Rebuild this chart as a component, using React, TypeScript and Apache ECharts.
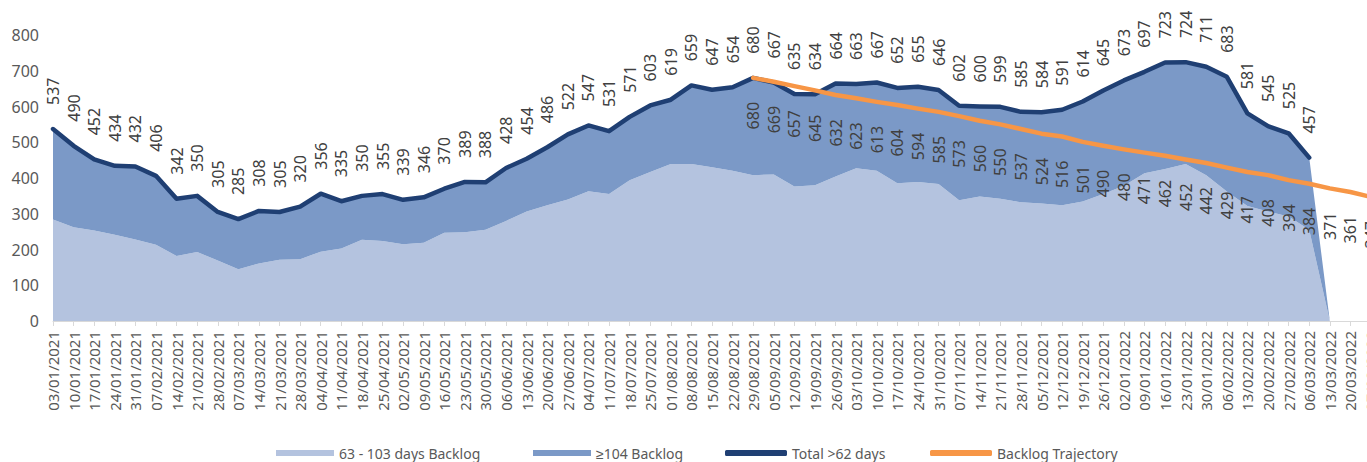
import React, { useEffect, useRef } from "react";
import * as echarts from "echarts";

const categories: string[] = [
  "03/01/2021", "10/01/2021", "17/01/2021", "24/01/2021", "31/01/2021",
  "07/02/2021", "14/02/2021", "21/02/2021", "28/02/2021",
  "07/03/2021", "14/03/2021", "21/03/2021", "28/03/2021",
  "04/04/2021", "11/04/2021", "18/04/2021", "25/04/2021",
  "02/05/2021", "09/05/2021", "16/05/2021", "23/05/2021", "30/05/2021",
  "06/06/2021", "13/06/2021", "20/06/2021", "27/06/2021",
  "04/07/2021", "11/07/2021", "18/07/2021", "25/07/2021",
  "01/08/2021", "08/08/2021", "15/08/2021", "22/08/2021", "29/08/2021",
  "05/09/2021", "12/09/2021", "19/09/2021", "26/09/2021",
  "03/10/2021", "10/10/2021", "17/10/2021", "24/10/2021", "31/10/2021",
  "07/11/2021", "14/11/2021", "21/11/2021", "28/11/2021",
  "05/12/2021", "12/12/2021", "19/12/2021", "26/12/2021",
  "02/01/2022", "09/01/2022", "16/01/2022", "23/01/2022", "30/01/2022",
  "06/02/2022", "13/02/2022", "20/02/2022", "27/02/2022",
  "06/03/2022", "13/03/2022", "20/03/2022", "27/03/2022",
];

// Total >62 days
const totalOver62: (number | null)[] = [
  537, 490, 452, 434, 432, 406, 342, 350, 305, 285,
  308, 305, 320, 356, 335, 350, 355, 339, 346, 370,
  389, 388, 428, 454, 486, 522, 547, 531, 571, 603,
  619, 659, 647, 654, 680, 667, 635, 634, 664, 663,
  667, 652, 655, 646, 602, 600, 599, 585, 584, 591,
  614, 645, 673, 697, 723, 724, 711, 683, 581, 545,
  525, 457, null, null, null,
];

// 63 - 103 days Backlog
const backlog63to103: (number | null)[] = [
  284, 262, 253, 241, 228, 213, 182, 193, 169, 145,
  161, 171, 173, 194, 203, 227, 224, 215, 219, 247,
  248, 255, 280, 306, 324, 340, 363, 355, 394, 417,
  439, 439, 430, 420, 408, 410, 376, 380, 404, 427,
  420, 385, 389, 383, 338, 348, 342, 332, 329, 324,
  334, 355, 378, 413, 425, 439, 408, 362, 322, 306,
  292, 255, 0, null, null,
];

// Backlog Trajectory
const trajectory: (number | null)[] = [
  null, null, null, null, null, null, null, null, null, null,
  null, null, null, null, null, null, null, null, null, null,
  null, null, null, null, null, null, null, null, null, null,
  null, null, null, null,
  680, 669, 657, 645, 632, 623, 613, 604, 594, 585,
  573, 560, 550, 537, 524, 516, 501, 490, 480, 471,
  462, 452, 442, 429, 417, 408, 394, 384, 371, 361, 347,
];

const yTicks = { min: 0, max: 800, interval: 100 };

const FONT = "'Noto Sans', sans-serif";

export default function App() {
  const ref = useRef<HTMLDivElement>(null);

  useEffect(() => {
    if (!ref.current) return;
    const chart = echarts.init(ref.current, undefined, { renderer: "svg" });

    // ≥104 backlog = total - (63-103 days)
    const backlog104: (number | null)[] = backlog63to103.map((v, i) => {
      if (v === null) return null;
      const t = totalOver62[i];
      return t === null ? 0 : t - v;
    });

    const legendCommon = {
      top: 446,
      padding: 0,
      itemHeight: 6,
      textStyle: { fontFamily: FONT, fontSize: 14, color: "#595959" },
      selectedMode: false as const,
    };

    chart.setOption({
      animation: false,
      textStyle: { fontFamily: FONT },
      grid: {
        left: 53,
        right: -4,
        top: 35,
        bottom: 141,
        containLabel: false,
        outerBoundsMode: "none",
      },
      legend: [
        { ...legendCommon, left: 276, itemWidth: 58, data: [{ name: "63 - 103 days Backlog", icon: "rect" }] },
        { ...legendCommon, left: 533, itemWidth: 58, data: [{ name: "≥104 Backlog", icon: "rect" }] },
        { ...legendCommon, left: 725, itemWidth: 62, data: [{ name: "Total >62 days", icon: "roundRect" }] },
        { ...legendCommon, left: 930, itemWidth: 62, data: [{ name: "Backlog Trajectory", icon: "roundRect" }] },
      ],
      xAxis: {
        type: "category",
        data: categories,
        boundaryGap: false,
        axisLine: { lineStyle: { color: "#D9D9D9", width: 1 } },
        axisTick: { show: true, length: 5, lineStyle: { color: "#D9D9D9" } },
        axisLabel: {
          rotate: 90,
          interval: 0,
          margin: 10,
          fontSize: 15,
          color: "#595959",
          fontFamily: FONT,
        },
        splitLine: { show: false },
      },
      yAxis: {
        type: "value",
        min: yTicks.min,
        max: yTicks.max,
        interval: yTicks.interval,
        axisLine: { show: false },
        axisTick: { show: false },
        splitLine: { show: false },
        axisLabel: { fontSize: 16, color: "#595959", margin: 14, fontFamily: FONT },
      },
      series: [
        {
          name: "63 - 103 days Backlog",
          type: "line",
          stack: "backlog",
          data: backlog63to103,
          showSymbol: false,
          symbol: "none",
          lineStyle: { width: 0 },
          itemStyle: { color: "#B4C3DF" },
          areaStyle: { color: "#B4C3DF", opacity: 1 },
          z: 1,
        },
        {
          name: "≥104 Backlog",
          type: "line",
          stack: "backlog",
          data: backlog104,
          showSymbol: false,
          symbol: "none",
          lineStyle: { width: 0 },
          itemStyle: { color: "#7B99C7" },
          areaStyle: { color: "#7B99C7", opacity: 1 },
          z: 2,
        },
        {
          name: "Total >62 days",
          type: "line",
          data: totalOver62,
          symbol: "circle",
          symbolSize: 0.1,
          showSymbol: true,
          lineStyle: { width: 4.5, color: "#1F3F73", cap: "round", join: "round" },
          itemStyle: { color: "#1F3F73" },
          label: {
            show: true,
            position: "top",
            distance: 24,
            rotate: 90,
            align: "left",
            verticalAlign: "middle",
            fontSize: 16,
            color: "#404040",
            fontFamily: FONT,
          },
          z: 3,
        },
        {
          name: "Backlog Trajectory",
          type: "line",
          data: trajectory,
          symbol: "circle",
          symbolSize: 0.1,
          showSymbol: true,
          lineStyle: { width: 4.5, color: "#F79646", cap: "round", join: "round" },
          itemStyle: { color: "#F79646" },
          label: {
            show: true,
            position: "bottom",
            distance: 24,
            rotate: 90,
            align: "right",
            verticalAlign: "middle",
            fontSize: 16,
            color: "#404040",
            fontFamily: FONT,
          },
          z: 4,
        },
      ],
    });

    return () => chart.dispose();
  }, []);

  return (
    <div
      ref={ref}
      style={{ position: "fixed", left: 0, top: 0, width: 1367, height: 462, background: "#ffffff" }}
    />
  );
}
